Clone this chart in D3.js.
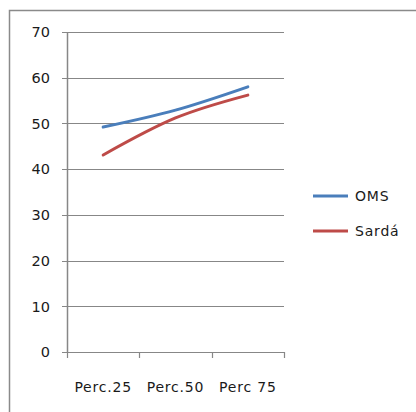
<!DOCTYPE html>
<html><head><meta charset="utf-8">
<script src="https://cdn.jsdelivr.net/npm/d3@7"></script>
<style>body{margin:0;background:#fff}svg{display:block}text{font-family:"DejaVu Sans",sans-serif;fill:#1a1a1a}</style>
</head><body>
<script>
const categories = ["Perc.25", "Perc.50", "Perc 75"];
const seriesNames = ["OMS", "Sardá"];
const omsValues = [49.2, 52.9, 58.0];
const sardaValues = [43.1, 51.2, 56.2];
const yTicks = [0, 10, 20, 30, 40, 50, 60, 70];
const colors = ["#4a7ebb", "#be4b48"];

const W = 416, H = 412;
const svg = d3.select("body").append("svg").attr("width", W).attr("height", H);
svg.append("rect").attr("x", 9.5).attr("y", 10.5).attr("width", W).attr("height", H)
  .attr("fill", "none").attr("stroke", "#8a8a8a").attr("stroke-width", 1.5);

const x = d3.scaleBand().domain(categories).range([67, 284]);
const y = d3.scaleLinear().domain([0, 70]).range([352, 32]);

const g = svg.append("g");
g.selectAll("line.grid").data(yTicks).join("line")
  .attr("x1", 62).attr("x2", 284)
  .attr("y1", d => Math.round(y(d)) + 0.5).attr("y2", d => Math.round(y(d)) + 0.5)
  .attr("stroke", "#878787").attr("stroke-width", 1.2);
g.append("line").attr("x1", 67.5).attr("x2", 67.5).attr("y1", y(70)).attr("y2", y(0) + 1)
  .attr("stroke", "#878787").attr("stroke-width", 1.5);
g.selectAll("text.yl").data(yTicks).join("text")
  .attr("x", 50).attr("y", d => y(d)).attr("dy", "0.36em")
  .attr("text-anchor", "end").attr("font-size", 14.5).text(d => d);
const xt = [67, ...categories.map(c => x(c) + x.bandwidth())];
g.selectAll("line.xt").data(xt).join("line")
  .attr("x1", d => Math.round(d) + 0.5).attr("x2", d => Math.round(d) + 0.5)
  .attr("y1", y(0)).attr("y2", y(0) + 6)
  .attr("stroke", "#878787").attr("stroke-width", 1.2);
g.selectAll("text.xl").data(categories).join("text")
  .attr("x", d => x(d) + x.bandwidth() / 2).attr("y", 392)
  .attr("text-anchor", "middle").attr("font-size", 14).attr("letter-spacing", 0.8)
  .text(d => d);

const line = d3.line().x((d, i) => x(categories[i]) + x.bandwidth() / 2).y(d => y(d))
  .curve(d3.curveMonotoneX);
[omsValues, sardaValues].forEach((vals, i) => {
  g.append("path").attr("d", line(vals)).attr("fill", "none")
    .attr("stroke", colors[i]).attr("stroke-width", 3).attr("stroke-linecap", "round");
});

const ly = [196, 231];
seriesNames.forEach((n, i) => {
  g.append("line").attr("x1", 313).attr("x2", 348).attr("y1", ly[i]).attr("y2", ly[i])
    .attr("stroke", colors[i]).attr("stroke-width", 3);
  g.append("text").attr("x", 355).attr("y", ly[i]).attr("dy", "0.36em")
    .attr("font-size", 14).attr("letter-spacing", 0.8).text(n);
});
</script>
</body></html>
